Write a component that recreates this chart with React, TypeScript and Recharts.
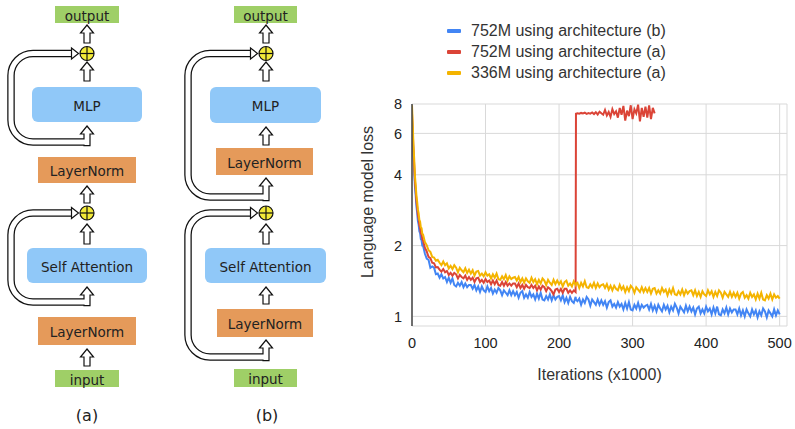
import React from "react";
import { LineChart, Line, XAxis, YAxis, CartesianGrid, Label } from "recharts";

// iterations in thousands
const iterations = [
  0, 1, 2, 3, 4, 5, 6, 7, 8, 9, 10, 11, 12, 13, 14, 15, 17.5,
  20, 22.5, 25, 27.5, 30, 32.5, 35, 37.5,
  40, 42.5, 45, 47.5, 50, 52.5, 55, 57.5,
  60, 62.5, 65, 67.5, 70, 72.5, 75, 77.5,
  80, 82.5, 85, 87.5, 90, 92.5, 95, 97.5,
  100, 102.5, 105, 107.5, 110, 112.5, 115, 117.5,
  120, 122.5, 125, 127.5, 130, 132.5, 135, 137.5,
  140, 142.5, 145, 147.5, 150, 152.5, 155, 157.5,
  160, 162.5, 165, 167.5, 170, 172.5, 175, 177.5,
  180, 182.5, 185, 187.5, 190, 192.5, 195, 197.5,
  200, 202.5, 205, 207.5, 210, 212.5, 215, 217.5,
  220, 222.5, 223, 225, 227.5, 230, 232.5, 235, 237.5,
  240, 242.5, 245, 247.5, 250, 252.5, 255, 257.5,
  260, 262.5, 265, 267.5, 270, 272.5, 275, 277.5,
  280, 282.5, 285, 287.5, 290, 292.5, 295, 297.5,
  300, 302.5, 305, 307.5, 310, 312.5, 315, 317.5,
  320, 322.5, 325, 327.5, 330, 332.5, 335, 337.5,
  340, 342.5, 345, 347.5, 350, 352.5, 355, 357.5,
  360, 362.5, 365, 367.5, 370, 372.5, 375, 377.5,
  380, 382.5, 385, 387.5, 390, 392.5, 395, 397.5,
  400, 402.5, 405, 407.5, 410, 412.5, 415, 417.5,
  420, 422.5, 425, 427.5, 430, 432.5, 435, 437.5,
  440, 442.5, 445, 447.5, 450, 452.5, 455, 457.5,
  460, 462.5, 465, 467.5, 470, 472.5, 475, 477.5,
  480, 482.5, 485, 487.5, 490, 492.5, 495, 497.5,
  500,
];

// 752M, architecture (b)
const loss752b = [
  6.9, 5.8, 4.75, 4.12, 3.56, 3.27, 2.94, 2.77, 2.55, 2.46, 2.3, 2.26, 2.13, 2.11, 2.0, 2.0, 1.85,
  1.76, 1.74, 1.61, 1.63, 1.61, 1.51, 1.52, 1.46,
  1.51, 1.45, 1.47, 1.4, 1.46, 1.39, 1.45, 1.36,
  1.34, 1.39, 1.35, 1.4, 1.33, 1.38, 1.33, 1.36,
  1.36, 1.31, 1.36, 1.29, 1.34, 1.27, 1.34, 1.29,
  1.27, 1.34, 1.28, 1.32, 1.25, 1.3, 1.26, 1.32,
  1.29, 1.23, 1.29, 1.26, 1.23, 1.29, 1.23, 1.28,
  1.23, 1.27, 1.2, 1.26, 1.28, 1.2, 1.24, 1.2,
  1.27, 1.21, 1.24, 1.18, 1.25, 1.19, 1.26, 1.18,
  1.17, 1.22, 1.18, 1.24, 1.17, 1.23, 1.18, 1.21,
  1.22, 1.17, 1.23, 1.15, 1.2, 1.14, 1.21, 1.16,
  1.14, 1.21, 1.18, 1.16, 1.19, 1.12, 1.18, 1.14, 1.21,
  1.18, 1.11, 1.18, 1.15, 1.12, 1.18, 1.12, 1.17,
  1.12, 1.16, 1.09, 1.15, 1.17, 1.1, 1.13, 1.09,
  1.15, 1.1, 1.13, 1.07, 1.14, 1.08, 1.15, 1.07,
  1.06, 1.12, 1.08, 1.14, 1.07, 1.12, 1.09, 1.11,
  1.12, 1.07, 1.13, 1.06, 1.11, 1.05, 1.12, 1.08,
  1.05, 1.12, 1.07, 1.11, 1.04, 1.1, 1.06, 1.13,
  1.09, 1.03, 1.1, 1.07, 1.04, 1.11, 1.05, 1.1,
  1.05, 1.09, 1.02, 1.08, 1.1, 1.03, 1.07, 1.03,
  1.1, 1.05, 1.08, 1.02, 1.09, 1.03, 1.1, 1.02,
  1.01, 1.07, 1.03, 1.09, 1.02, 1.08, 1.04, 1.07,
  1.07, 1.02, 1.08, 1.01, 1.06, 1.0, 1.07, 1.03,
  1.0, 1.07, 1.02, 1.06, 0.99, 1.05, 1.01, 1.08,
  1.05, 0.99, 1.06, 1.03, 1.0, 1.07, 1.01, 1.06,
  1.02,
];

// 752M, architecture (a): diverges at ~222k, logged until ~330k
const loss752a = [
  7.3, 6.1, 5.05, 4.38, 3.77, 3.44, 3.1, 2.92, 2.7, 2.6, 2.44, 2.38, 2.26, 2.23, 2.13, 2.1, 1.96,
  1.89, 1.79, 1.77, 1.69, 1.68, 1.615, 1.62, 1.58,
  1.55, 1.59, 1.54, 1.56, 1.5, 1.53, 1.49, 1.53,
  1.51, 1.45, 1.5, 1.47, 1.45, 1.49, 1.43, 1.47,
  1.43, 1.46, 1.4, 1.45, 1.46, 1.4, 1.43, 1.39,
  1.44, 1.4, 1.42, 1.37, 1.42, 1.37, 1.42, 1.36,
  1.35, 1.4, 1.35, 1.4, 1.35, 1.38, 1.35, 1.38,
  1.38, 1.33, 1.38, 1.32, 1.36, 1.31, 1.36, 1.33,
  1.32, 1.36, 1.32, 1.35, 1.29, 1.34, 1.3, 1.35,
  1.33, 1.28, 1.33, 1.31, 1.28, 1.24, 1.3, 1.31,
  1.27, 1.31, 1.26, 1.31, 1.31, 1.26, 1.29, 1.26,
  1.29, 1.27, 7.28, 7.31, 7.27, 7.33, 7.29, 7.35, 7.26,
  7.32, 7.28, 7.36, 7.25, 7.38, 7.22, 7.42, 7.3,
  7.2, 7.55, 7.15, 7.4, 7.05, 7.6, 7.25, 7.45,
  7.0, 7.7, 7.2, 7.85, 6.8, 7.5, 7.1, 7.9,
  6.9, 7.6, 7.3, 7.95, 6.75, 7.7, 7.05, 7.8,
  7.0, 7.9, 6.9, 7.7, 7.3,
];

// 336M, architecture (a)
const loss336a = [
  7.9, 6.5, 5.35, 4.65, 3.95, 3.62, 3.27, 3.08, 2.85, 2.75, 2.57, 2.53, 2.39, 2.37, 2.24, 2.23, 2.07,
  2.01, 1.91, 1.88, 1.79, 1.78, 1.725, 1.74, 1.69,
  1.65, 1.71, 1.65, 1.68, 1.6, 1.64, 1.59, 1.65,
  1.61, 1.54, 1.61, 1.57, 1.54, 1.6, 1.53, 1.58,
  1.52, 1.57, 1.49, 1.55, 1.56, 1.49, 1.52, 1.48,
  1.54, 1.49, 1.51, 1.45, 1.51, 1.46, 1.52, 1.44,
  1.43, 1.48, 1.44, 1.5, 1.42, 1.48, 1.44, 1.46,
  1.47, 1.42, 1.47, 1.4, 1.45, 1.39, 1.45, 1.41,
  1.39, 1.46, 1.4, 1.44, 1.37, 1.43, 1.38, 1.45,
  1.42, 1.36, 1.43, 1.39, 1.36, 1.43, 1.37, 1.42,
  1.37, 1.41, 1.34, 1.4, 1.42, 1.35, 1.38, 1.34,
  1.41, 1.36, 1.38, 1.39, 1.32, 1.39, 1.34, 1.41, 1.33,
  1.32, 1.37, 1.33, 1.39, 1.32, 1.38, 1.33, 1.36,
  1.37, 1.32, 1.37, 1.3, 1.35, 1.29, 1.35, 1.31,
  1.29, 1.36, 1.3, 1.34, 1.27, 1.33, 1.28, 1.35,
  1.32, 1.26, 1.33, 1.3, 1.27, 1.33, 1.27, 1.32,
  1.27, 1.32, 1.25, 1.31, 1.32, 1.25, 1.29, 1.25,
  1.32, 1.27, 1.3, 1.23, 1.3, 1.25, 1.32, 1.24,
  1.23, 1.28, 1.24, 1.3, 1.23, 1.29, 1.25, 1.28,
  1.29, 1.23, 1.29, 1.22, 1.27, 1.21, 1.28, 1.24,
  1.22, 1.29, 1.24, 1.28, 1.21, 1.27, 1.22, 1.29,
  1.26, 1.2, 1.27, 1.24, 1.21, 1.27, 1.21, 1.26,
  1.21, 1.26, 1.19, 1.25, 1.27, 1.2, 1.23, 1.19,
  1.26, 1.21, 1.24, 1.18, 1.25, 1.19, 1.26, 1.18,
  1.17, 1.23, 1.19, 1.25, 1.18, 1.24, 1.2, 1.22,
  1.19,
];

const xTicks = [0, 100, 200, 300, 400, 500];
const yTicks = [1, 2, 4, 6, 8];

const series = [
  { key: "b752", name: "752M using architecture (b)", color: "#4285f4" },
  { key: "a752", name: "752M using architecture (a)", color: "#db4437" },
  { key: "a336", name: "336M using architecture (a)", color: "#f4b400" },
];

const data = iterations.map((it, i) => ({
  it,
  b752: loss752b[i],
  a752: loss752a[i],
  a336: loss336a[i],
}));

const FONT = "'Liberation Sans', Arial, sans-serif";
const DIAG_FONT = "'DejaVu Sans', Verdana, sans-serif";

// ---------- diagram pieces ----------
const GREEN = "#9fcf67";
const BLUE = "#90c8f8";
const ORANGE = "#e59a5a";

function Box({ x, y, w, h, fill, text, rx = 3 }: any) {
  return (
    <g>
      <rect x={x} y={y} width={w} height={h} rx={rx} fill={fill} />
      <text
        x={x + w / 2}
        y={y + h / 2 + 1}
        textAnchor="middle"
        dominantBaseline="central"
        fontFamily={DIAG_FONT}
        fontSize={13.5}
        fill="#222"
      >
        {text}
      </text>
    </g>
  );
}

function Arrow({ cx, tip, bottom }: any) {
  const hw = 6.5;
  const hh = 8;
  const sw = 3;
  const d = `M${cx},${tip} L${cx + hw},${tip + hh} L${cx + sw},${tip + hh} L${cx + sw},${bottom} L${cx - sw},${bottom} L${cx - sw},${tip + hh} L${cx - hw},${tip + hh} Z`;
  return <path d={d} fill="#fff" stroke="#111" strokeWidth={1.2} />;
}

function Plus({ cx, cy }: any) {
  const r = 7;
  return (
    <g>
      <circle cx={cx} cy={cy} r={r} fill="#f3ea38" stroke="#111" strokeWidth={1.2} />
      <line x1={cx - r} y1={cy} x2={cx + r} y2={cy} stroke="#111" strokeWidth={1.2} />
      <line x1={cx} y1={cy - r} x2={cx} y2={cy + r} stroke="#111" strokeWidth={1.2} />
    </g>
  );
}

// residual connection drawn as a hollow pipe
function Skip({ cx, yBottom, yTop, xLeft }: any) {
  const R = 22;
  const tipX = cx - 8.5;
  const baseX = tipX - 7;
  const path = (end: number) =>
    `M${end},${yBottom} L${xLeft + R},${yBottom} A${R},${R} 0 0 1 ${xLeft},${yBottom - R} L${xLeft},${yTop + R} A${R},${R} 0 0 1 ${xLeft + R},${yTop} L${baseX + 1},${yTop}`;
  return (
    <g>
      <path d={path(cx - 3)} fill="none" stroke="#111" strokeWidth={7.5} />
      <path d={path(cx + 1)} fill="none" stroke="#fff" strokeWidth={5} />
      <path
        d={`M${tipX},${yTop} L${baseX},${yTop - 5.5} L${baseX},${yTop + 5.5} Z`}
        fill="#fff"
        stroke="#111"
        strokeWidth={1.2}
      />
    </g>
  );
}

function Diagrams() {
  const a = 87;
  const b = 266;
  return (
    <svg width={340} height={429} style={{ position: "absolute", left: 0, top: 0 }}>
      {/* (a) */}
      <Box x={55} y={6} w={64} h={17} fill={GREEN} text="output" rx={0} />
      <Arrow cx={a} tip={25} bottom={43} />
      <Plus cx={a} cy={53.5} />
      <Arrow cx={a} tip={62} bottom={81} />
      <Box x={32} y={87} w={110} h={35} fill={BLUE} text="MLP" rx={6} />
      <Arrow cx={a} tip={126} bottom={145.7} />
      <Skip cx={a} yBottom={142} yTop={53.5} xLeft={11} />
      <Box x={38} y={157} w={98} h={26} fill={ORANGE} text="LayerNorm" rx={0} />
      <Arrow cx={a} tip={186} bottom={203} />
      <Plus cx={a} cy={213} />
      <Arrow cx={a} tip={224} bottom={244} />
      <Box x={27} y={248} w={120} h={35} fill={BLUE} text="Self Attention" rx={6} />
      <Arrow cx={a} tip={287} bottom={305.7} />
      <Skip cx={a} yBottom={302} yTop={213} xLeft={11} />
      <Box x={38} y={317} w={98} h={28} fill={ORANGE} text="LayerNorm" rx={0} />
      <Arrow cx={a} tip={349} bottom={366} />
      <Box x={55} y={370} w={64} h={17} fill={GREEN} text="input" rx={0} />
      <text x={a} y={415} textAnchor="middle" dominantBaseline="central" fontFamily={DIAG_FONT} fontSize={16} fill="#222">
        (a)
      </text>

      {/* (b) */}
      <Box x={234} y={6} w={63} h={17} fill={GREEN} text="output" rx={0} />
      <Arrow cx={b} tip={25} bottom={43} />
      <Plus cx={b} cy={53.5} />
      <Arrow cx={b} tip={62} bottom={81} />
      <Box x={210} y={87} w={111} h={36} fill={BLUE} text="MLP" rx={6} />
      <Arrow cx={b} tip={127} bottom={145} />
      <Box x={216} y={148} w={97} h={27} fill={ORANGE} text="LayerNorm" rx={0} />
      <Arrow cx={b} tip={178} bottom={200.7} />
      <Skip cx={b} yBottom={197} yTop={53.5} xLeft={188} />
      <Plus cx={b} cy={213} />
      <Arrow cx={b} tip={224} bottom={244} />
      <Box x={205} y={248} w={121} h={35} fill={BLUE} text="Self Attention" rx={6} />
      <Arrow cx={b} tip={287} bottom={304} />
      <Box x={217} y={309} w={96} h={28} fill={ORANGE} text="LayerNorm" rx={0} />
      <Arrow cx={b} tip={340} bottom={360.7} />
      <Skip cx={b} yBottom={357} yTop={213} xLeft={188} />
      <Box x={234} y={369} w={63} h={18} fill={GREEN} text="input" rx={0} />
      <text x={b + 1} y={415} textAnchor="middle" dominantBaseline="central" fontFamily={DIAG_FONT} fontSize={16} fill="#222">
        (b)
      </text>
    </svg>
  );
}

function LegendBox() {
  return (
    <div style={{ position: "absolute", left: 447, top: 21, fontFamily: FONT, fontSize: 16, color: "#333" }}>
      {series.map((s) => (
        <div key={s.key} style={{ display: "flex", alignItems: "center", height: 20.8 }}>
          <span style={{ width: 14, height: 4, borderRadius: 1, background: s.color, marginRight: 10 }} />
          <span style={{ lineHeight: "20px" }}>{s.name}</span>
        </div>
      ))}
    </div>
  );
}

export default function App() {
  return (
    <div style={{ position: "absolute", left: 0, top: 0, width: 795, height: 429, background: "#fff", overflow: "hidden" }}>
      <Diagrams />
      <LegendBox />
      <div style={{ position: "absolute", left: 340, top: 0 }}>
        <LineChart width={455} height={429} data={data} margin={{ top: 104, right: 8, bottom: 43, left: 12 }}>
          <CartesianGrid stroke="#d9d9d9" />
          <XAxis
            dataKey="it"
            type="number"
            domain={[0, 510]}
            ticks={xTicks}
            allowDataOverflow
            axisLine={false}
            tickLine={false}
            tickSize={0}
            tickMargin={12}
            height={60}
            tick={{ fill: "#222", fontSize: 14.5, fontFamily: FONT }}
          >
            <Label value="Iterations (x1000)" position="insideBottom" offset={6} style={{ fill: "#333", fontSize: 16, fontFamily: FONT }} />
          </XAxis>
          <YAxis
            type="number"
            scale="log"
            domain={[0.91, 8]}
            ticks={yTicks}
            allowDataOverflow
            width={60}
            axisLine={{ stroke: "#444", strokeWidth: 1.5 }}
            tickLine={false}
            tickSize={0}
            tickMargin={10}
            tick={{ fill: "#222", fontSize: 14.5, fontFamily: FONT }}
          >
            <Label
              content={({ viewBox }: any) => {
                const x = viewBox.x + 15;
                const y = viewBox.y + viewBox.height / 2 - 13;
                return (
                  <text
                    x={x}
                    y={y}
                    transform={`rotate(-90, ${x}, ${y})`}
                    textAnchor="middle"
                    dominantBaseline="central"
                    fill="#333"
                    fontSize={16}
                    fontFamily={FONT}
                  >
                    Language model loss
                  </text>
                );
              }}
            />
          </YAxis>
          {series.map((s) => (
            <Line
              key={s.key}
              dataKey={s.key}
              name={s.name}
              type="linear"
              stroke={s.color}
              strokeWidth={2}
              dot={false}
              activeDot={false}
              isAnimationActive={false}
            />
          ))}
        </LineChart>
      </div>
    </div>
  );
}
